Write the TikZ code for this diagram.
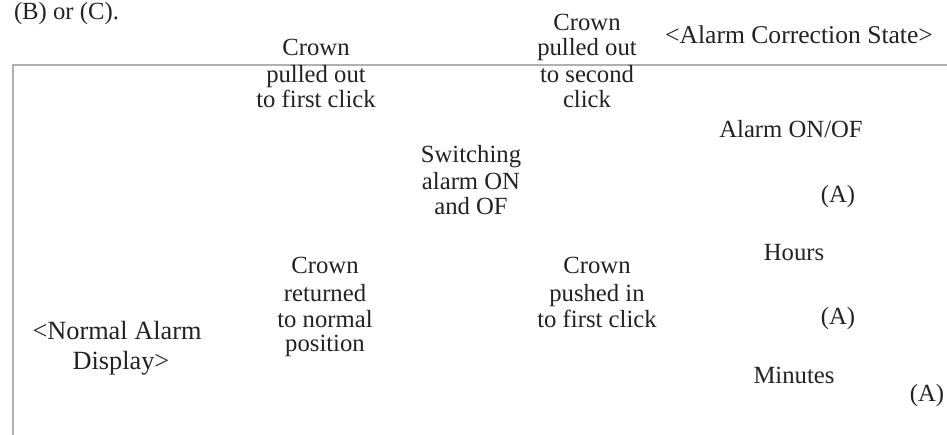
\documentclass[tikz,border=0pt]{standalone}
\usepackage{fontspec}
\setmainfont{Liberation Serif}
\definecolor{ink}{HTML}{222222}
\definecolor{rulegray}{HTML}{B0B0B0}
\begin{document}
\begin{tikzpicture}[x=1pt,y=-1pt,
  txt/.style={anchor=base, inner sep=0pt, outer sep=0pt, text=ink, font=\fontsize{24.7}{26}\selectfont},
  big/.style={txt, font=\fontsize{25.6}{27}\selectfont},
  rule/.style={draw=rulegray, line width=2pt}]
\useasboundingbox (0,0) rectangle (947,435);
% frame lines
\coordinate (lb) at (13,435);
\coordinate (lt) at (13,65);
\coordinate (rt) at (947,65);
\draw[rule] (lb) -- (lt) -- (rt);
% heading
\node[txt, anchor=base west] (bc) at (14,20) {(B) or (C).};
% crown pulled out to first click
\node[txt] (c1a) at (316,56) {Crown};
\node[txt] (c1b) at (316,83) {pulled out};
\node[txt] (c1c) at (316,108) {to first click};
% crown pulled out to second click
\node[txt] (c2a) at (587,31) {Crown};
\node[txt] (c2b) at (587,56) {pulled out};
\node[txt] (c2c) at (587,83) {to second};
\node[txt] (c2d) at (587,108) {click};
% alarm correction state
\node[big] (acs) at (799,44) {<Alarm Correction State>};
\node[txt] (aon) at (791,138) {Alarm ON/OF};
\node[txt] (a1) at (838,203) {(A)};
\node[txt] (hrs) at (794,261) {Hours};
\node[txt] (a2) at (838,324) {(A)};
\node[txt] (min) at (794,383) {Minutes};
\node[txt] (a3) at (927,401) {(A)};
% switching
\node[txt] (sw1) at (471,163) {Switching};
\node[txt] (sw2) at (471,190) {alarm ON};
\node[txt] (sw3) at (471,215) {and OF};
% crown returned
\node[txt] (cr1) at (325,274) {Crown};
\node[txt] (cr2) at (325,302) {returned};
\node[txt] (cr3) at (325,327) {to normal};
\node[txt] (cr4) at (325,352) {position};
% crown pushed in
\node[txt] (cp1) at (597,274) {Crown};
\node[txt] (cp2) at (597,302) {pushed in};
\node[txt] (cp3) at (597,327) {to first click};
% normal alarm display
\node[big, font=\fontsize{26.3}{28}\selectfont] (nad1) at (117,339) {<Normal Alarm};
\node[big, font=\fontsize{26.3}{28}\selectfont] (nad2) at (121,369) {Display>};
\end{tikzpicture}
\end{document}
